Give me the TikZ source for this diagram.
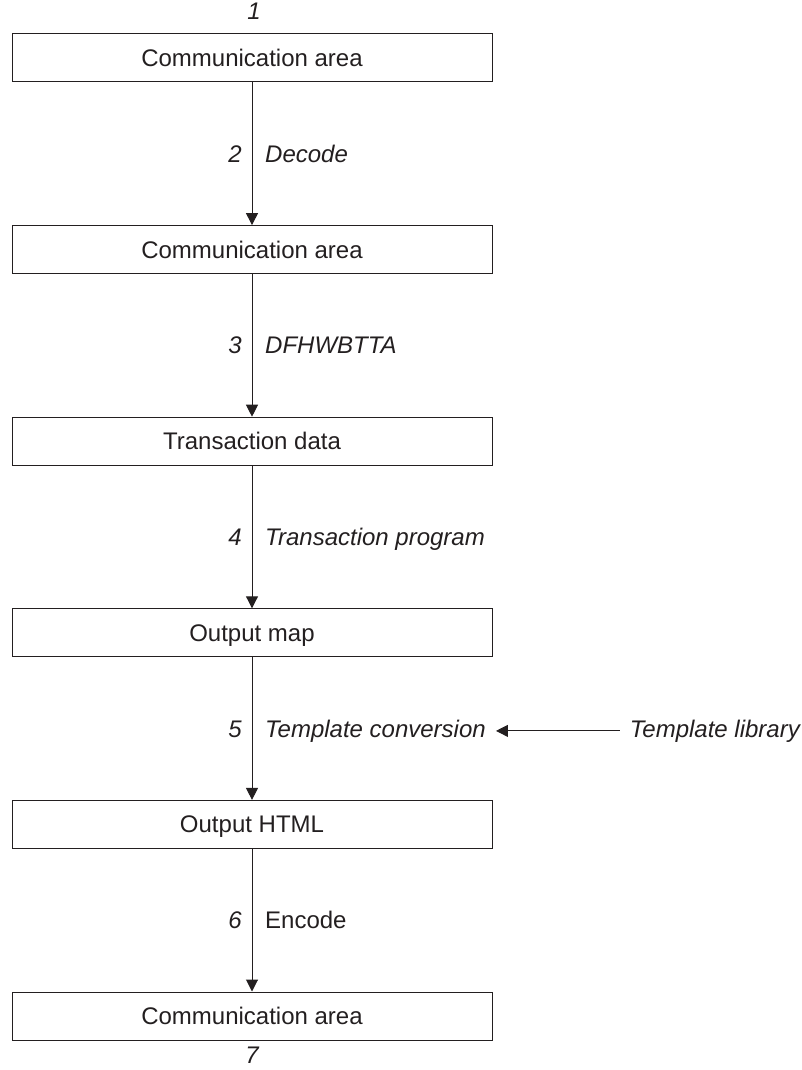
\documentclass[tikz,border=0pt]{standalone}
\usepackage{fontspec}
\setmainfont{Liberation Sans}
\usetikzlibrary{arrows.meta}
\definecolor{ink}{HTML}{231F20}
\begin{document}
\begin{tikzpicture}[x=1pt,y=-1pt,
  boxnode/.style={draw=ink, line width=1pt, minimum width=480pt, minimum height=48pt,
    inner sep=0pt, font=\fontsize{24}{28}\selectfont, text=ink, text height=17pt, text depth=0pt},
  lbl/.style={inner sep=0pt, font=\fontsize{24}{28}\selectfont\itshape, text=ink},
  lblup/.style={inner sep=0pt, font=\fontsize{24}{28}\selectfont, text=ink},
  arr/.style={draw=ink, line width=1pt, -{Triangle[length=12pt,width=12pt]}}]
\useasboundingbox (0,0) rectangle (801,1070);
% boxes
\node[boxnode] (b1) at (252,58) {Communication area};
\node[boxnode] (b2) at (252,249.6) {Communication area};
\node[boxnode] (b3) at (252,441.2) {Transaction data};
\node[boxnode] (b4) at (252,632.8) {Output map};
\node[boxnode] (b5) at (252,824.4) {Output HTML};
\node[boxnode] (b6) at (252,1016) {Communication area};
% connectors
\draw[arr] (b1.south) -- (b2.north);
\draw[arr] (b2.south) -- (b3.north);
\draw[arr] (b3.south) -- (b4.north);
\draw[arr] (b4.south) -- (b5.north);
\draw[arr] (b5.south) -- (b6.north);
% top and bottom numbers
\node[lbl, anchor=base] (n1) at (254,19.5) {1};
\node[lbl, anchor=base] (n7) at (252,1063) {7};
% step labels
\node[lbl, anchor=base east] (n2) at (242,162.3) {2};
\node[lbl, anchor=base west] (t2) at (265,162.3) {Decode};
\node[lbl, anchor=base east] (n3) at (242,353.9) {3};
\node[lbl, anchor=base west] (t3) at (265,353.9) {DFHWBTTA};
\node[lbl, anchor=base east] (n4) at (242,545.5) {4};
\node[lbl, anchor=base west] (t4) at (265,545.5) {Transaction program};
\node[lbl, anchor=base east] (n5) at (242,737.1) {5};
\node[lbl, anchor=base west] (t5) at (265,737.1) {Template conversion};
\node[lbl, anchor=base east] (lib) at (800,737.1) {Template library};
\node[lbl, anchor=base east] (n6) at (242,928.7) {6};
\node[lblup, anchor=base west] (t6) at (265,928.7) {Encode};
% template library arrow
\draw[arr] ([xshift=-10pt]lib.west) -- ([xshift=10pt]t5.east);
\end{tikzpicture}
\end{document}
